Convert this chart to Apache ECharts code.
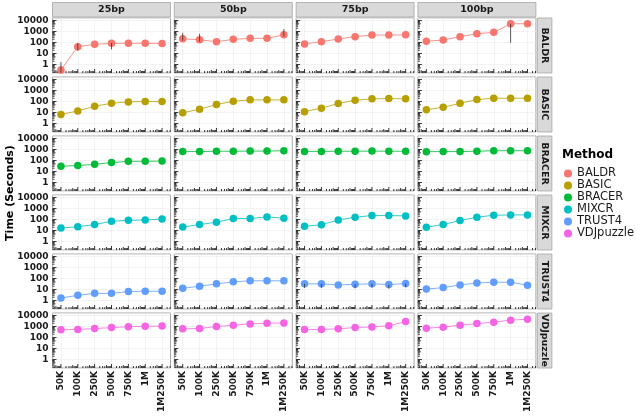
<!DOCTYPE html>
<html>
<head>
<meta charset="utf-8">
<script src="https://cdn.jsdelivr.net/npm/echarts@6/dist/echarts.min.js"></script>
<style>
html,body{margin:0;padding:0;background:#fff;}
#chart{width:642px;height:416px;}
</style>
</head>
<body>
<div id="chart"></div>
<script>
// facets: columns = read length, rows = method
var readLengths = ['25bp', '50bp', '75bp', '100bp'];
var readCounts = ['50K', '100K', '250K', '500K', '750K', '1M', '1M250K'];
var methods = ['BALDR', 'BASIC', 'BRACER', 'MIXCR', 'TRUST4', 'VDJpuzzle'];
var methodColors = ['#F8766D', '#B79F00', '#00BA38', '#00BFC4', '#619CFF', '#F564E3'];

// time in seconds, one row per read length
var baldrTime = [
    [0.32, 42, 69, 85, 85, 85, 82],
    [220, 180, 120, 195, 240, 240, 510],
    [75, 120, 210, 340, 480, 480, 500],
    [130, 170, 340, 630, 840, 5100, 5100]
];
var basicTime = [
    [6.6, 14, 37, 70, 93, 100, 100],
    [9.4, 20, 53, 107, 142, 142, 142],
    [12, 25, 66, 130, 176, 188, 176],
    [18, 30, 70, 150, 200, 200, 200]
];
var bracerTime = [
    [30, 35, 45, 65, 85, 85, 90],
    [650, 650, 700, 700, 720, 720, 780],
    [680, 680, 700, 700, 720, 700, 700],
    [640, 650, 650, 700, 780, 780, 780]
];
var mixcrTime = [
    [17, 22, 35, 70, 85, 90, 110],
    [21, 35, 57, 123, 123, 174, 132],
    [25, 33, 93, 163, 230, 230, 215],
    [20, 35, 81, 163, 246, 263, 263]
];
var trust4Time = [
    [1.7, 3, 4.5, 4.5, 6.5, 7, 7],
    [13, 20, 33, 50, 62, 62, 62],
    [33, 33, 26, 30, 33, 28, 35],
    [11, 15, 26, 40, 46, 46, 25]
];
var vdjpuzzleTime = [
    [500, 550, 650, 800, 950, 1050, 1100],
    [620, 660, 1000, 1320, 1740, 2000, 2140],
    [540, 540, 620, 810, 930, 1150, 2800],
    [710, 870, 1320, 1860, 2460, 3800, 4650]
];
var allTimes = [baldrTime, basicTime, bracerTime, mixcrTime, trust4Time, vdjpuzzleTime];

// error bars: [method, read length, read count, low, high]
var timeRanges = [
    [0, 0, 0, 0.18, 1.7], [0, 0, 1, 18, 85], [0, 0, 3, 24, 90],
    [0, 1, 0, 150, 780], [0, 1, 1, 120, 630], [0, 1, 6, 350, 1700],
    [0, 3, 5, 95, 5100],
    [4, 2, 0, 14, 33], [4, 2, 1, 14, 33], [4, 2, 3, 13, 30],
    [4, 2, 4, 15, 33], [4, 2, 5, 12, 28], [4, 2, 6, 16, 35]
];

var yMin = 0.17, yMax = 17000;
var font = 'DejaVu Sans';
var left0 = 52.5, stepX = 121.8, panelW = 118;
var top0 = 18, stepY = 59, panelH = 55;

// annotation_logticks style marks (left & bottom of each panel)
var logTicks = [];
for (var k = -1; k <= 4; k++) {
    for (var m = 1; m <= 9; m++) {
        var v = m * Math.pow(10, k);
        if (v >= yMin && v <= yMax) logTicks.push([0, v, 0, 0, m === 1 ? 4 : (m === 5 ? 3 : 2)]);
    }
}
for (var k2 = 0; k2 <= 7; k2++) {
    for (var m2 = 1; m2 <= 9; m2++) {
        var p = k2 + Math.log10(m2);
        if (p >= 0.4 && p <= 7.6) logTicks.push([0, 1, 1, p - 1, m2 === 1 ? 4 : (m2 === 5 ? 3 : 2)]);
    }
}

function renderTick(params, api) {
    var cs = params.coordSys;
    var len = api.value(4);
    if (api.value(2) === 0) {
        var y = api.coord([0, api.value(1)])[1];
        if (y < cs.y || y > cs.y + cs.height) return;
        return {type: 'line', shape: {x1: cs.x, y1: y, x2: cs.x + len, y2: y}, style: {stroke: '#222', lineWidth: 0.9}};
    }
    var a = api.coord([0, 1])[0], b = api.coord([1, 1])[0];
    var x = a + api.value(3) * (b - a);
    if (x < cs.x || x > cs.x + cs.width) return;
    var yb = cs.y + cs.height;
    return {type: 'line', shape: {x1: x, y1: yb, x2: x, y2: yb - len}, style: {stroke: '#222', lineWidth: 0.9}};
}

function renderRange(params, api) {
    var lo = api.coord([api.value(0), api.value(1)]);
    var hi = api.coord([api.value(0), api.value(2)]);
    var cs = params.coordSys;
    return {type: 'line', shape: {x1: lo[0], y1: Math.min(lo[1], cs.y + cs.height), x2: hi[0], y2: Math.max(hi[1], cs.y)},
        style: {stroke: '#333', lineWidth: 0.8}};
}

var grids = [], xAxes = [], yAxes = [], series = [], graphics = [];

for (var r = 0; r < methods.length; r++) {
    for (var c = 0; c < readLengths.length; c++) {
        var g = r * readLengths.length + c;
        grids.push({
            left: left0 + c * stepX, top: top0 + r * stepY, width: panelW, height: panelH,
            show: true, backgroundColor: '#fff', borderColor: '#A6A6A6', borderWidth: 1
        });
        xAxes.push({
            type: 'category', gridIndex: g, data: readCounts,
            axisLine: {show: false}, axisTick: {show: false},
            splitLine: {show: true, alignWithLabel: true, lineStyle: {color: '#EBEBEB', width: 0.6}},
            axisLabel: {
                show: r === methods.length - 1, interval: 0, rotate: 90, margin: 3,
                fontFamily: font, fontSize: 9, fontWeight: 'bold', color: '#1a1a1a'
            }
        });
        yAxes.push({
            type: 'log', logBase: 10, gridIndex: g, min: yMin, max: yMax,
            axisLine: {show: false}, axisTick: {show: false},
            splitLine: {show: true, lineStyle: {color: '#EBEBEB', width: 0.6}},
            axisLabel: {
                show: c === 0, margin: 4, showMinLabel: false, showMaxLabel: false,
                fontFamily: font, fontSize: 9, fontWeight: 'bold', color: '#1a1a1a',
                formatter: function (val) {
                    var e = Math.log10(val);
                    return (Math.abs(e - Math.round(e)) < 1e-6 && val >= 1) ? String(Math.round(val)) : '';
                }
            }
        });
        series.push({
            type: 'custom', xAxisIndex: g, yAxisIndex: g, renderItem: renderTick,
            data: logTicks, silent: true, z: 1, clip: false
        });
        var ranges = timeRanges.filter(function (t) { return t[0] === r && t[1] === c; })
            .map(function (t) { return [t[2], t[3], t[4]]; });
        if (ranges.length) {
            series.push({
                type: 'custom', xAxisIndex: g, yAxisIndex: g, renderItem: renderRange,
                data: ranges, silent: true, z: 3
            });
        }
        series.push({
            name: methods[r], type: 'line', xAxisIndex: g, yAxisIndex: g,
            data: allTimes[r][c], symbol: 'circle', symbolSize: 7.5, showSymbol: true,
            itemStyle: {color: methodColors[r]},
            lineStyle: {color: methodColors[r], width: 0.8},
            emphasis: {disabled: true}, z: 2
        });
    }
}

// facet strips
readLengths.forEach(function (name, c) {
    graphics.push({type: 'rect', shape: {x: left0 + c * stepX, y: 2.5, width: panelW, height: 14.5},
        style: {fill: '#D9D9D9', stroke: '#A6A6A6', lineWidth: 0.8}});
    graphics.push({type: 'text', x: left0 + c * stepX + panelW / 2, y: 10,
        style: {text: name, font: 'bold 9.5px ' + font, fill: '#1a1a1a', textAlign: 'center', textVerticalAlign: 'middle'}});
});
methods.forEach(function (name, r) {
    var x = left0 + 3 * stepX + panelW + 1.5;
    graphics.push({type: 'rect', shape: {x: x, y: top0 + r * stepY, width: 14.5, height: panelH},
        style: {fill: '#D9D9D9', stroke: '#A6A6A6', lineWidth: 0.8}});
    graphics.push({type: 'text', x: x + 7.5, y: top0 + r * stepY + panelH / 2, rotation: -Math.PI / 2,
        style: {text: name, font: 'bold 9.5px ' + font, fill: '#1a1a1a', textAlign: 'center', textVerticalAlign: 'middle'}});
});
graphics.push({type: 'text', x: 10, y: 193, rotation: Math.PI / 2,
    style: {text: 'Time (Seconds)', font: 'bold 11px ' + font, fill: '#000', textAlign: 'center', textVerticalAlign: 'middle'}});
graphics.push({type: 'text', x: 562, y: 155,
    style: {text: 'Method', font: 'bold 12px ' + font, fill: '#000', textAlign: 'left', textVerticalAlign: 'middle'}});

var chart = echarts.init(document.getElementById('chart'));
chart.setOption({
    animation: false,
    backgroundColor: '#fff',
    grid: grids,
    xAxis: xAxes,
    yAxis: yAxes,
    series: series,
    graphic: graphics,
    legend: {
        data: methods, orient: 'vertical', left: 564, top: 167.5, padding: 0,
        icon: 'circle', itemWidth: 8, itemHeight: 8, itemGap: 0,
        textStyle: {fontFamily: font, fontSize: 11.5, color: '#1a1a1a', lineHeight: 10}
    }
});
</script>
</body>
</html>
